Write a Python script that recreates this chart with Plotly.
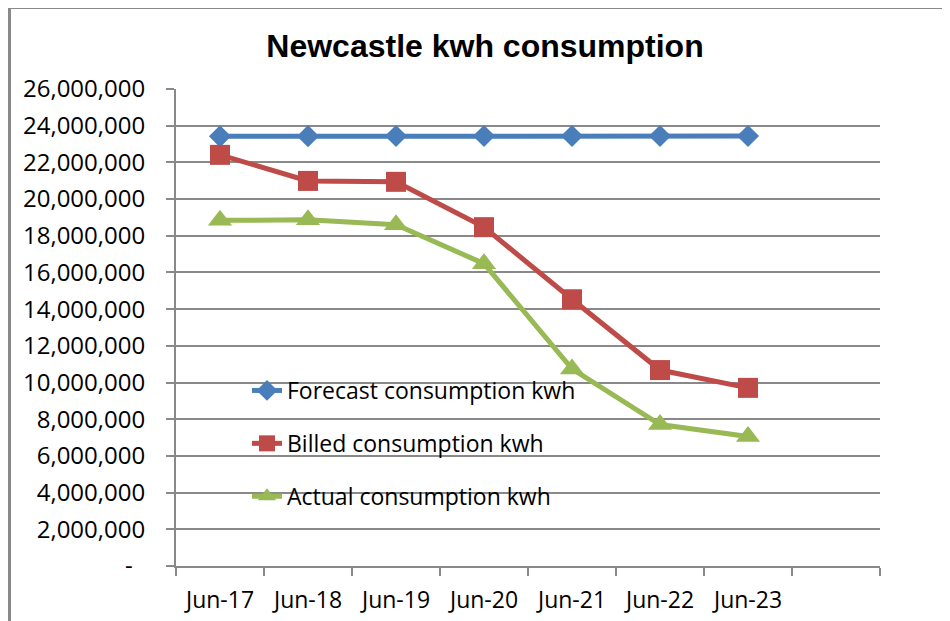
import plotly.graph_objects as go

# ---- data ----
months = ["Jun-17", "Jun-18", "Jun-19", "Jun-20", "Jun-21", "Jun-22", "Jun-23"]
empty_slot = [" "]
forecast = [23420000, 23430000, 23440000, 23440000, 23440000, 23440000, 23440000]
billed = [22410000, 20990000, 20940000, 18470000, 14540000, 10680000, 9710000]
actual = [18840000, 18870000, 18600000, 16480000, 10740000, 7710000, 7060000]
y_ticks = [0, 2000000, 4000000, 6000000, 8000000, 10000000, 12000000,
           14000000, 16000000, 18000000, 20000000, 22000000, 24000000, 26000000]
y_ticktext = ["-\u00a0\u00a0"] + [f"{v:,}" for v in y_ticks[1:]]

# ---- layout geometry (page pixels; the page body adds an 8px offset) ----
OFF = 8
PAGE_W, PAGE_H = 950, 621
W, H = PAGE_W - OFF, PAGE_H - OFF
L, R, T, B = 176 - OFF, 880 - OFF, 89 - OFF, 566 - OFF
def px(x):
    return (x - OFF - L) / (R - L)
def py(y):
    return (B - (y - OFF)) / (B - T)

GRID = "#898989"
FONT = "Open Sans"

fig = go.Figure()
series = [
    ("Forecast consumption kwh", forecast, "#4A7EBB", "diamond", 17),
    ("Billed consumption kwh", billed, "#BE4B48", "square", 20),
    ("Actual consumption kwh", actual, "#98B954", "triangle-up", 21),
]
for i, (name, vals, col, sym, sz) in enumerate(series):
    fig.add_trace(go.Scatter(
        x=months, y=vals, name=name, mode="lines+markers",
        line=dict(color=col, width=5),
        marker=dict(symbol=sym, size=sz, color=col, line=dict(width=0)),
        legendgroup=f"g{i}",
    ))

fig.update_layout(
    width=W, height=H,
    margin=dict(l=L, r=W - R, t=T, b=H - B, pad=0, autoexpand=False),
    paper_bgcolor="white", plot_bgcolor="white",
    font=dict(family=FONT, color="black", size=23),
    title=dict(text="<b>Newcastle kwh consumption</b>",
               font=dict(family="Liberation Sans, Arial", size=32, color="black"),
               x=(485 - OFF) / W, xanchor="center", xref="container",
               y=1 - (46 - OFF) / H, yanchor="middle", yref="container"),
    showlegend=True,
    legend=dict(x=px(247), y=py(369), xanchor="left", yanchor="top",
                bgcolor="rgba(0,0,0,0)", borderwidth=0,
                font=dict(family=FONT, size=23, color="black"),
                traceorder="grouped", tracegroupgap=20),
    xaxis=dict(type="category", categoryorder="array",
               categoryarray=months + empty_slot, range=[-0.5, 7.5],
               automargin=False,
               showgrid=False, zeroline=False,
               showline=True, linecolor=GRID, linewidth=2,
               ticks="outside", tickson="boundaries", ticklen=8,
               tickcolor=GRID, tickwidth=2,
               tickfont=dict(family=FONT, size=23, color="black"),
               ticklabelstandoff=12),
    yaxis=dict(range=[0, 26000000], tickmode="array", tickvals=y_ticks,
               ticktext=y_ticktext, automargin=False,
               showgrid=True, gridcolor=GRID, gridwidth=1.6,
               zeroline=False, showline=True, linecolor=GRID, linewidth=2,
               ticks="outside", ticklen=8, tickcolor=GRID, tickwidth=2,
               tickfont=dict(family=FONT, size=24, color="black"),
               ticklabelstandoff=16),
)

# chart-area border (Excel chart frame)
fig.add_shape(type="line", xref="paper", yref="paper",
              x0=px(9), x1=px(9), y0=py(7), y1=py(PAGE_H + 5),
              line=dict(color=GRID, width=4), layer="above")
fig.add_shape(type="line", xref="paper", yref="paper",
              x0=px(7), x1=px(PAGE_W + 5), y0=py(8), y1=py(8),
              line=dict(color=GRID, width=2), layer="above")

fig.write_html("out.html")
